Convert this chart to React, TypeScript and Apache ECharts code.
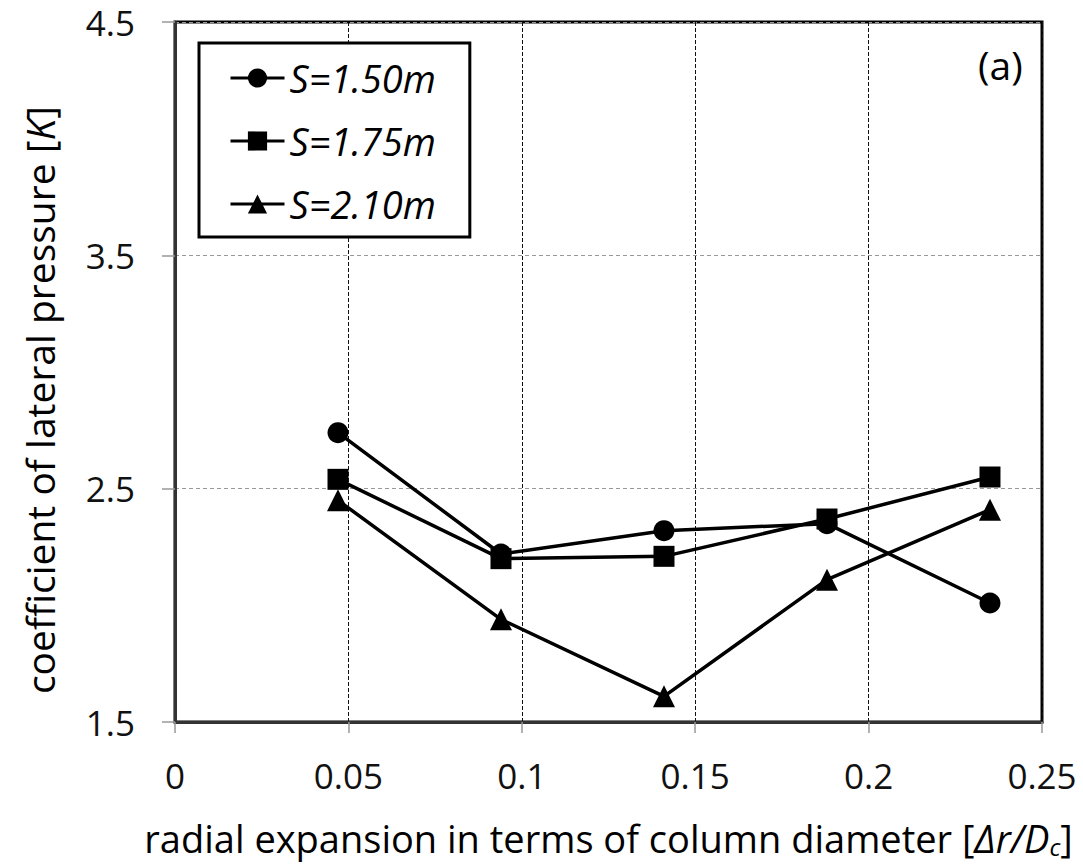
import React, { useEffect, useRef } from "react";
import * as echarts from "echarts";

const xValues = [0.047, 0.094, 0.141, 0.188, 0.235];
const seriesNames = ["S=1.50m", "S=1.75m", "S=2.10m"];
const seriesSymbols = ["circle", "rect", "triangle"];
const s150 = [2.74, 2.22, 2.32, 2.35, 2.01];
const s175 = [2.54, 2.2, 2.21, 2.37, 2.55];
const s210 = [2.45, 1.94, 1.61, 2.11, 2.41];
const seriesValues = [s150, s175, s210];
const yTicks = [1.5, 2.5, 3.5, 4.5];
const xMin = 0;
const xMax = 0.25;
const xInterval = 0.05;

const FONT = "'Open Sans', 'Noto Sans', sans-serif";

export default function App() {
  const ref = useRef<HTMLDivElement>(null);
  useEffect(() => {
    if (!ref.current) return;
    const chart = echarts.init(ref.current, null, { renderer: "svg" });
    const option: any = {
      animation: false,
      backgroundColor: "#fff",
      textStyle: { fontFamily: FONT },
      title: {
        text: "(a)",
        left: 973,
        top: 40,
        textStyle: { fontFamily: FONT, fontSize: 39, fontWeight: "normal", color: "#000" },
      },
      grid: {
        left: 175,
        right: 41,
        top: 22,
        bottom: 144,
        outerBoundsMode: "none",
        containLabel: false,
        show: true,
        borderColor: "#000",
        borderWidth: 3,
        backgroundColor: "transparent",
      },
      legend: {
        orient: "vertical",
        left: 199,
        top: 43,
        data: seriesNames,
        backgroundColor: "#fff",
        borderColor: "#000",
        borderWidth: 3,
        borderRadius: 0,
        padding: [14, 34, 12, 30],
        itemGap: 21,
        itemWidth: 54,
        itemHeight: 24,
        lineStyle: { width: 3, color: "#000" },
        textStyle: {
          fontFamily: FONT,
          fontStyle: "italic",
          fontSize: 38,
          color: "#000",
          lineHeight: 42,
        },
      },
      xAxis: {
        type: "value",
        min: xMin,
        max: xMax,
        interval: xInterval,
        name: "{n|radial expansion in terms of column diameter [}{i|Δr/D}{sub|c}{n|]}",
        nameLocation: "middle",
        nameGap: 96,
        nameTextStyle: {
          rich: {
            n: { fontFamily: FONT, fontSize: 38, color: "#000", lineHeight: 40 },
            i: { fontFamily: FONT, fontSize: 38, fontStyle: "italic", color: "#000", lineHeight: 40 },
            sub: {
              fontFamily: FONT,
              fontSize: 24,
              fontStyle: "italic",
              color: "#000",
              lineHeight: 8,
              padding: [18, 0, 0, 0],
              verticalAlign: "bottom",
            },
          },
        },
        axisLine: { show: true, lineStyle: { color: "#333", width: 3 } },
        axisTick: { show: true, inside: false, length: 11, lineStyle: { color: "#999", width: 1.5 } },
        axisLabel: { fontFamily: FONT, fontSize: 35, color: "#111", margin: 36 },
        splitLine: { show: true, lineStyle: { color: "#111", width: 1, type: [4, 2] } },
      },
      yAxis: {
        type: "value",
        min: yTicks[0],
        max: yTicks[yTicks.length - 1],
        name: "{n|coefficient of lateral pressure [}{i|K}{n|]}",
        nameLocation: "middle",
        nameRotate: 90,
        nameGap: 116,
        nameTextStyle: {
          padding: [0, 56, 0, 0],
          rich: {
            n: { fontFamily: FONT, fontSize: 39, color: "#000" },
            i: { fontFamily: FONT, fontSize: 39, fontStyle: "italic", color: "#000" },
          },
        },
        axisLine: { show: true, lineStyle: { color: "#333", width: 3 } },
        axisTick: {
          show: true,
          inside: false,
          length: 13,
          customValues: yTicks,
          lineStyle: { color: "#999", width: 1.5 },
        },
        axisLabel: {
          fontFamily: FONT,
          fontSize: 35,
          color: "#111",
          margin: 40,
          customValues: yTicks,
        },
        splitLine: { show: true, lineStyle: { color: "#999", width: 1, type: [4, 3] } },
      },
      series: seriesNames.map((name, k) => ({
        name,
        type: "line",
        data: xValues.map((x, i) => [x, seriesValues[k][i]]),
        symbol: seriesSymbols[k],
        symbolSize: k === 2 ? 22 : 21,
        lineStyle: { color: "#000", width: 3.5 },
        itemStyle: { color: "#000" },
        z: 3 + k,
      })),
    };
    chart.setOption(option);
    return () => chart.dispose();
  }, []);
  return (
    <div
      ref={ref}
      style={{ position: "fixed", left: 0, top: 0, width: 1083, height: 866 }}
    />
  );
}
